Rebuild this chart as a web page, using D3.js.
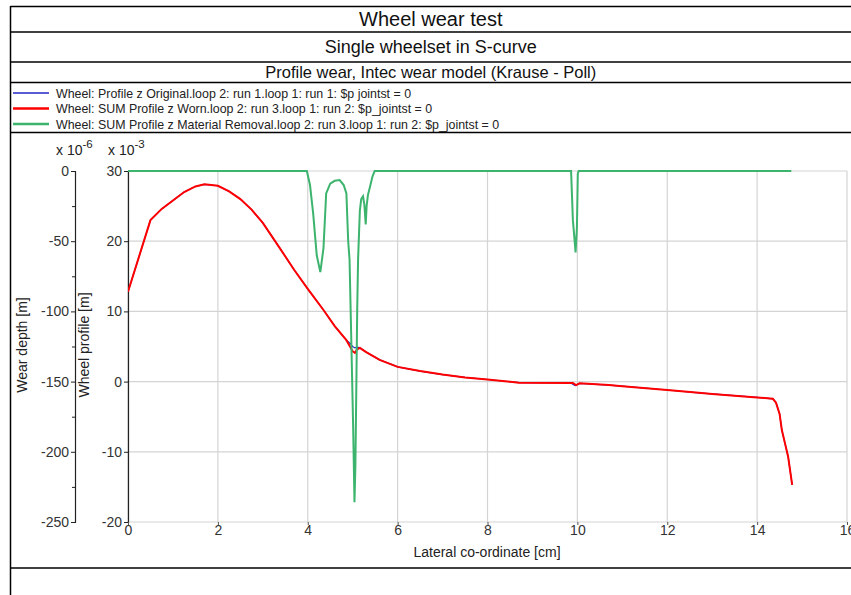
<!DOCTYPE html>
<html>
<head>
<meta charset="utf-8">
<script src="https://cdn.jsdelivr.net/npm/d3@7"></script>
<style>
  body { margin: 0; background: #fff; }
  svg { font-family: "Liberation Sans", Arial, sans-serif; }
</style>
</head>
<body>
<div id="chart"></div>
<script>
// Titles and legend
const titles = ['Wheel wear test', 'Single wheelset in S-curve', 'Profile wear, Intec wear model (Krause - Poll)'];
const legendLabels = [
  'Wheel: Profile z Original.loop 2: run 1.loop 1: run 1: $p  jointst = 0',
  'Wheel: SUM Profile z Worn.loop 2: run 3.loop 1: run 2: $p_jointst = 0',
  'Wheel: SUM Profile z Material Removal.loop 2: run 3.loop 1: run 2: $p_jointst = 0'
];
const seriesColors = ['#2424c4', '#ff0000', '#3cb46e'];

// Axis ticks
const xTicks = [0, 2, 4, 6, 8, 10, 12, 14, 16];
const profileTicks = [30, 20, 10, 0, -10, -20];          // x 10^-3 m
const wearTicks = [0, -50, -100, -150, -200, -250];      // x 10^-6 m
const wearMinorTicks = [-25, -75, -125, -175, -225];

// Original profile (x 10^-3 m) vs lateral co-ordinate (cm)
const origX = [0, 0.5, 0.75, 1.0, 1.25, 1.5, 1.7, 2.0, 2.25, 2.5, 2.75, 3.0, 3.4, 3.7, 4.0, 4.35, 4.6, 4.86, 4.95, 5.0, 5.05, 5.1, 5.16, 5.3, 5.6, 6.0, 6.5, 7.0, 7.5, 8.0, 8.7, 9.85, 9.95, 10.05, 10.7, 11.0, 12.0, 12.7, 13.0, 14.0, 14.35, 14.42, 14.5, 14.55, 14.62, 14.69, 14.78];
const origY = [12.8, 23.0, 24.6, 25.8, 27.0, 27.8, 28.1, 27.9, 27.1, 26.0, 24.5, 22.6, 18.8, 15.9, 13.2, 10.2, 7.9, 5.9, 5.4, 5.0, 4.8, 4.9, 4.8, 4.2, 3.1, 2.1, 1.5, 1.0, 0.6, 0.3, -0.15, -0.2, -0.55, -0.25, -0.5, -0.65, -1.2, -1.6, -1.75, -2.25, -2.45, -3.0, -4.6, -6.9, -8.8, -10.7, -14.7];

// Worn profile (x 10^-3 m)
const wornX = [0, 0.5, 0.75, 1.0, 1.25, 1.5, 1.7, 2.0, 2.25, 2.5, 2.75, 3.0, 3.4, 3.7, 4.0, 4.35, 4.6, 4.86, 4.95, 5.0, 5.05, 5.1, 5.16, 5.3, 5.6, 6.0, 6.5, 7.0, 7.5, 8.0, 8.7, 9.9, 9.97, 10.05, 10.7, 11.0, 12.0, 12.7, 13.0, 14.0, 14.35, 14.42, 14.5, 14.55, 14.62, 14.69, 14.78];
const wornY = [12.8, 23.0, 24.6, 25.8, 27.0, 27.8, 28.1, 27.9, 27.1, 26.0, 24.5, 22.6, 18.8, 15.9, 13.2, 10.2, 7.9, 5.9, 4.9, 4.3, 4.1, 4.6, 4.8, 4.2, 3.1, 2.1, 1.5, 1.0, 0.6, 0.3, -0.15, -0.2, -0.5, -0.25, -0.5, -0.65, -1.2, -1.6, -1.75, -2.25, -2.45, -3.0, -4.6, -6.9, -8.8, -10.7, -14.7];

// Material removal (x 10^-6 m)
const removalX = [0, 3.98, 4.05, 4.12, 4.2, 4.28, 4.35, 4.41, 4.5, 4.6, 4.71, 4.8, 4.86, 4.9, 4.93, 4.97, 5.01, 5.04, 5.06, 5.08, 5.1, 5.12, 5.16, 5.19, 5.23, 5.26, 5.29, 5.31, 5.34, 5.38, 5.44, 5.49, 9.86, 9.9, 9.96, 9.99, 10.01, 10.03, 14.76];
const removalY = [0, 0, -10, -30, -60, -72, -55, -16, -9, -7, -6.5, -10, -16, -50, -63, -122, -182, -236, -210, -157, -100, -63, -28, -20, -18, -24, -38, -25, -17, -12, -4, 0, 0, -35, -58, -40, -2, 0, 0];

const W = 851, H = 595;
const svg = d3.select('#chart').append('svg').attr('width', W).attr('height', H);

// Frame
const frameX0 = 10.5, frameX1 = 851;
const rows = [6.5, 32, 62, 82.5, 132.5, 568];
svg.append('line').attr('x1', frameX0).attr('x2', frameX0).attr('y1', 6).attr('y2', H)
  .attr('stroke', '#000').attr('stroke-width', 1.5);
svg.selectAll('line.row').data(rows).join('line').attr('class', 'row')
  .attr('x1', frameX0).attr('x2', frameX1).attr('y1', (d) => d).attr('y2', (d) => d)
  .attr('stroke', '#000').attr('stroke-width', 1.5);

const cx = (frameX0 + frameX1) / 2;
const titleSizes = [20, 18, 16.5];
const titleY = [26, 53, 78];
titles.forEach((t, i) => {
  svg.append('text').attr('x', cx).attr('y', titleY[i]).attr('text-anchor', 'middle')
    .attr('font-size', titleSizes[i]).attr('fill', '#111').text(t);
});

// Legend
const legendY = [93, 108.5, 124];
legendLabels.forEach((t, i) => {
  svg.append('line').attr('x1', 13).attr('x2', 49).attr('y1', legendY[i]).attr('y2', legendY[i])
    .attr('stroke', seriesColors[i]).attr('stroke-width', i === 0 ? 1.3 : 2.4);
  svg.append('text').attr('x', 56).attr('y', legendY[i] + 4.5).attr('font-size', 12.4)
    .attr('fill', '#222').text(t);
});

// Scales
const plotL = 128, plotR = 847, plotT = 171, plotB = 522;
const x = d3.scaleLinear().domain([0, 16]).range([plotL, plotR]);
const yProfile = d3.scaleLinear().domain([-20, 30]).range([plotB, plotT]);
const yWear = d3.scaleLinear().domain([-250, 0]).range([plotB, plotT]);

// Grid
const grid = svg.append('g').attr('stroke', '#d4d4d4').attr('stroke-width', 1.2);
grid.selectAll('line.v').data(xTicks).join('line')
  .attr('x1', (d) => x(d)).attr('x2', (d) => x(d)).attr('y1', plotT).attr('y2', plotB);
grid.selectAll('line.h').data(profileTicks).join('line')
  .attr('x1', plotL).attr('x2', plotR).attr('y1', (d) => yProfile(d)).attr('y2', (d) => yProfile(d));

const plain = (d) => String(d);

// Left (wear depth) axis
const wearAxis = svg.append('g').attr('transform', 'translate(75,0)')
  .call(d3.axisLeft(yWear).tickValues(wearTicks).tickFormat(plain).tickSize(4).tickPadding(2));
svg.append('g').attr('transform', 'translate(75,0)')
  .call(d3.axisLeft(yWear).tickValues(wearMinorTicks).tickSize(3).tickFormat(''))
  .call((g) => g.select('.domain').remove());

// Inner (wheel profile) axis
const profAxis = svg.append('g').attr('transform', `translate(${plotL},0)`)
  .call(d3.axisLeft(yProfile).tickValues(profileTicks).tickFormat(plain).tickSize(4).tickPadding(2));

// X axis
const xAxis = svg.append('g').attr('transform', `translate(0,${plotB})`)
  .call(d3.axisBottom(x).tickValues(xTicks).tickFormat(plain).tickSize(3).tickPadding(0));
xAxis.select('.domain').remove();

[wearAxis, profAxis].forEach((a) => {
  a.select('.domain').attr('stroke', '#222').attr('stroke-width', 1.2);
});
svg.selectAll('.tick text').attr('font-size', 14).attr('fill', '#333')
  .attr('font-family', '"Liberation Sans", Arial, sans-serif');
svg.selectAll('.tick line').attr('stroke', '#222');
xAxis.selectAll('.tick line').attr('stroke', '#555');

// Axis titles
svg.append('text').attr('x', 487).attr('y', 557).attr('text-anchor', 'middle')
  .attr('font-size', 14).attr('fill', '#222').text('Lateral co-ordinate [cm]');
svg.append('text').attr('transform', 'translate(27,345) rotate(-90)').attr('text-anchor', 'middle')
  .attr('font-size', 14).attr('fill', '#222').text('Wear depth [m]');
svg.append('text').attr('transform', 'translate(89,345) rotate(-90)').attr('text-anchor', 'middle')
  .attr('font-size', 14).attr('fill', '#222').text('Wheel profile [m]');

function expLabel(xPos, exp) {
  const t = svg.append('text').attr('x', xPos).attr('y', 155).attr('font-size', 14).attr('fill', '#222');
  t.append('tspan').text('x 10');
  t.append('tspan').attr('dy', -7).attr('font-size', 11.5).text(exp);
}
expLabel(56, '-6');
expLabel(108, '-3');

// Series
const clip = svg.append('clipPath').attr('id', 'plot-clip').append('rect')
  .attr('x', plotL).attr('y', plotT - 3).attr('width', plotR - plotL).attr('height', plotB - plotT + 6);
const plot = svg.append('g').attr('clip-path', 'url(#plot-clip)');

const lineProfile = d3.line().x((d) => x(d[0])).y((d) => yProfile(d[1]));
const lineWear = d3.line().x((d) => x(d[0])).y((d) => yWear(d[1]));

plot.append('path').datum(d3.zip(origX, origY)).attr('d', lineProfile)
  .attr('fill', 'none').attr('stroke', seriesColors[0]).attr('stroke-width', 1.2);
plot.append('path').datum(d3.zip(wornX, wornY)).attr('d', lineProfile)
  .attr('fill', 'none').attr('stroke', seriesColors[1]).attr('stroke-width', 2);
plot.append('path').datum(d3.zip(removalX, removalY)).attr('d', lineWear)
  .attr('fill', 'none').attr('stroke', seriesColors[2]).attr('stroke-width', 2);
</script>
</body>
</html>
